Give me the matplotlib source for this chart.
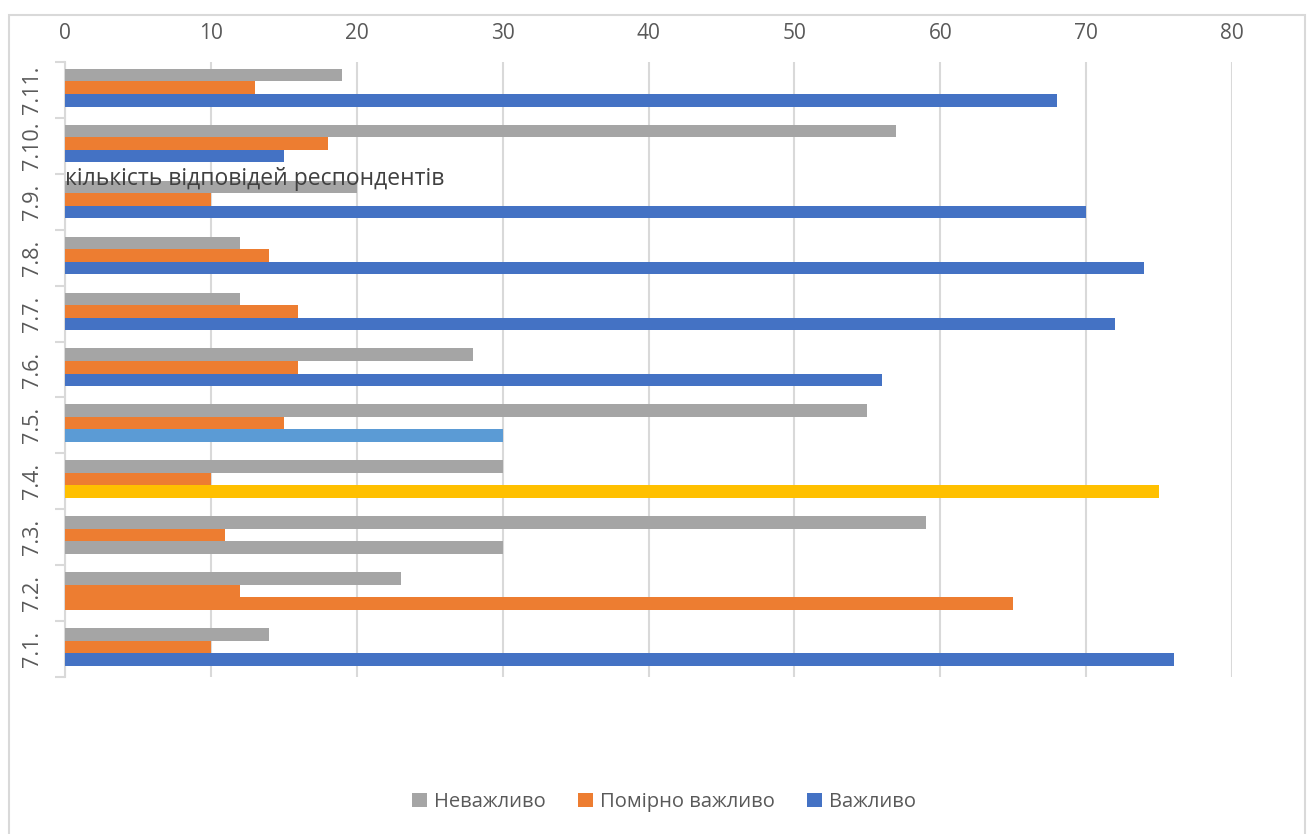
import matplotlib
matplotlib.use("Agg")
import matplotlib.pyplot as plt
import numpy as np
from matplotlib.patches import Rectangle, Patch

plt.rcParams['font.family'] = ['Open Sans', 'DejaVu Sans']

categories = ['7.1.', '7.2.', '7.3.', '7.4.', '7.5.', '7.6.', '7.7.', '7.8.', '7.9.', '7.10.', '7.11.']
nevazhlyvo = [14, 23, 59, 30, 55, 28, 12, 12, 20, 57, 19]
pomirno = [10, 12, 11, 10, 15, 16, 16, 14, 10, 18, 13]
vazhlyvo = [76, 65, 30, 75, 30, 56, 72, 74, 70, 15, 68]
series_names = ['Неважливо', 'Помірно важливо', 'Важливо']
xticks = [0, 10, 20, 30, 40, 50, 60, 70, 80]
axis_title = 'кількість відповідей респондентів'

GRAY = '#A5A5A5'
ORANGE = '#ED7D31'
BLUE = '#4472C4'
LIGHTBLUE = '#5B9BD5'
YELLOW = '#FFC000'

vazh_colors = [BLUE] * len(categories)
vazh_colors[1] = ORANGE
vazh_colors[2] = GRAY
vazh_colors[3] = YELLOW
vazh_colors[4] = LIGHTBLUE

W, H = 1313, 834
fig = plt.figure(figsize=(W / 100, H / 100), dpi=100)
ax = fig.add_axes([65 / W, 1 - 677 / H, (1232 - 65) / W, (677 - 62) / H])

y = np.arange(len(categories))
bh = 0.224
off = 0.04
ax.barh(y + off + bh, nevazhlyvo, height=bh, color=GRAY, zorder=3)
ax.barh(y + off, pomirno, height=bh, color=ORANGE, zorder=3)
ax.barh(y + off - bh, vazhlyvo, height=bh, color=vazh_colors, zorder=3)

ax.set_xlim(0, 80)
ax.set_ylim(-0.5, len(categories) - 0.5)
ax.set_xticks(xticks)
ax.xaxis.tick_top()
ax.tick_params(axis='x', length=0, pad=13, labelsize=15, labelcolor='#595959')
ax.grid(axis='x', color='#D9D9D9', linewidth=1.5, zorder=0)

ax.set_yticks(np.arange(-0.5, len(categories), 1.0))
ax.set_yticklabels([])
ax.set_yticks(y, minor=True)
ax.set_yticklabels(categories, minor=True, rotation=90, va='center', fontsize=15.5, color='#595959')
ax.tick_params(axis='y', which='major', length=7, color='#D9D9D9', width=1.5, direction='out')
ax.tick_params(axis='y', which='minor', length=0, pad=16)

for s in ['top', 'right', 'bottom']:
    ax.spines[s].set_visible(False)
ax.spines['left'].set_color('#D9D9D9')
ax.spines['left'].set_linewidth(1.5)

ax.text(0, 8.4, axis_title, fontsize=16.5, color='#404040', va='center', ha='left', zorder=5)

handles = [Patch(facecolor=GRAY), Patch(facecolor=ORANGE), Patch(facecolor=BLUE)]
fig.legend(handles, series_names, loc='center', bbox_to_anchor=(664 / W, 1 - 802 / H), ncol=3,
           frameon=False, fontsize=14.5, handlelength=0.75, handleheight=0.75, handletextpad=0.35,
           columnspacing=1.6, labelcolor='#595959')

fig.patches.append(Rectangle((9 / W, -0.01), (1305 - 9) / W, 1 - 15 / H + 0.01, transform=fig.transFigure,
                             fill=False, edgecolor='#D9D9D9', linewidth=1.5))

fig.savefig('out.png', dpi=100)
